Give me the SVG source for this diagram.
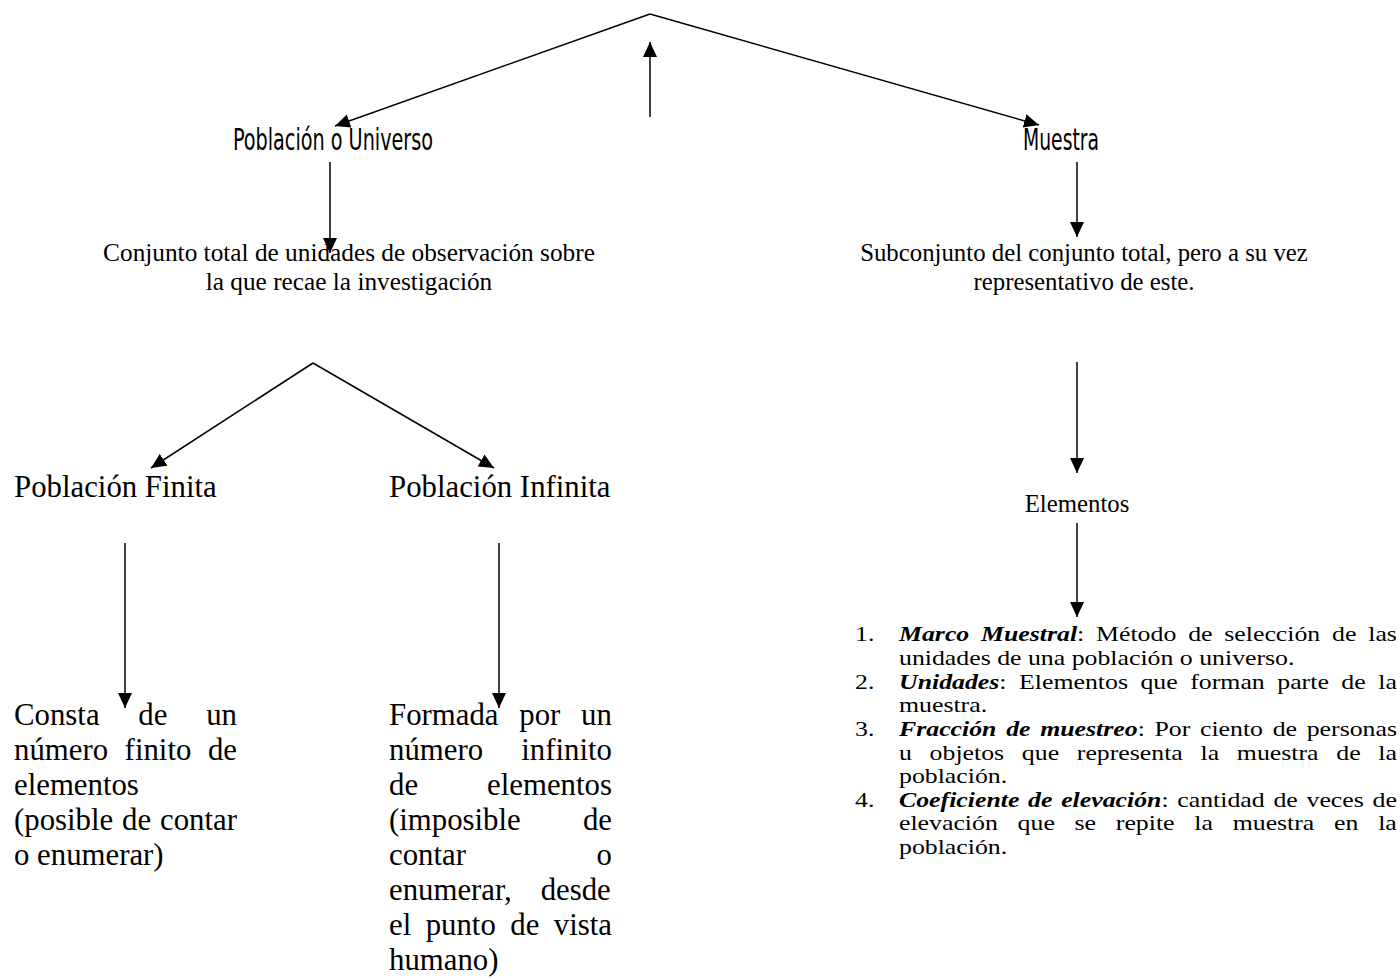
<svg xmlns="http://www.w3.org/2000/svg" width="1400" height="979" viewBox="0 0 1400 979">
<style>
.ln{stroke:#000;stroke-width:1.5;fill:none}
.t{font-family:"Liberation Serif","Times New Roman",serif;fill:#000}
.bi{font-weight:bold;font-style:italic}
.ag{font-family:"DejaVu Sans Condensed","DejaVu Sans",sans-serif;font-stretch:condensed;fill:#000}
.b{font-size:30.8px}
.m{font-size:25.3px}
.s{font-size:24.8px}
.l{font-size:21.2px}
</style>
<defs>
<marker id="ah" markerUnits="userSpaceOnUse" markerWidth="16" markerHeight="15" refX="15" refY="7" orient="auto">
<path d="M0,0 L15,7 L0,14 Z" fill="#000"/>
</marker>
</defs>
<rect width="1400" height="979" fill="#fff"/>
<g id="connectors">
<line class="ln" x1="650" y1="14" x2="335" y2="126" marker-end="url(#ah)"/>
<line class="ln" x1="650" y1="14" x2="1039" y2="125" marker-end="url(#ah)"/>
<line class="ln" x1="650" y1="117" x2="650" y2="42" marker-end="url(#ah)"/>
<line class="ln" x1="330" y1="162" x2="330" y2="253" marker-end="url(#ah)"/>
<line class="ln" x1="1077" y1="162" x2="1077" y2="237" marker-end="url(#ah)"/>
<line class="ln" x1="313" y1="363" x2="151" y2="468" marker-end="url(#ah)"/>
<line class="ln" x1="313" y1="363" x2="494" y2="468" marker-end="url(#ah)"/>
<line class="ln" x1="1077" y1="362" x2="1077" y2="473" marker-end="url(#ah)"/>
<line class="ln" x1="1077" y1="523" x2="1077" y2="617" marker-end="url(#ah)"/>
<line class="ln" x1="125" y1="543" x2="125" y2="708" marker-end="url(#ah)"/>
<line class="ln" x1="499" y1="543" x2="499" y2="708" marker-end="url(#ah)"/>
</g>
<g id="n-poblacion-universo">
<text class="ag" x="233" y="150" font-size="30" textLength="200" lengthAdjust="spacingAndGlyphs">Población o Universo</text>
</g>
<g id="n-muestra">
<text class="ag" x="1023" y="150" font-size="30" textLength="76" lengthAdjust="spacingAndGlyphs">Muestra</text>
</g>
<g id="n-conjunto">
<text class="t m" text-anchor="middle" x="349" y="261">Conjunto total de unidades de observación sobre</text>
<text class="t m" text-anchor="middle" x="349" y="290">la que recae la investigación</text>
</g>
<g id="n-subconjunto">
<text class="t s" text-anchor="middle" x="1084" y="261">Subconjunto del conjunto total, pero a su vez</text>
<text class="t s" text-anchor="middle" x="1084" y="290">representativo de este.</text>
</g>
<g id="n-finita">
<text class="t b" x="14" y="497">Población Finita</text>
</g>
<g id="n-infinita">
<text class="t b" x="389" y="497">Población Infinita</text>
</g>
<g id="n-elementos">
<text class="t s" text-anchor="middle" x="1077" y="512">Elementos</text>
</g>
<g id="n-finita-desc">
<text class="t b" x="14" y="725" style="word-spacing:31.1px">Consta de un</text>
<text class="t b" x="14" y="760" style="word-spacing:8.85px">número finito de</text>
<text class="t b" x="14" y="795">elementos</text>
<text class="t b" x="14" y="830" style="word-spacing:1.15px">(posible de contar</text>
<text class="t b" x="14" y="865">o enumerar)</text>
</g>
<g id="n-infinita-desc">
<text class="t b" x="389" y="725" style="word-spacing:13.1px">Formada por un</text>
<text class="t b" x="389" y="760" style="word-spacing:30.5px">número infinito</text>
<text class="t b" x="389" y="795" style="word-spacing:61.3px">de elementos</text>
<text class="t b" x="389" y="830" style="word-spacing:54.5px">(imposible de</text>
<text class="t b" x="389" y="865" style="word-spacing:122.9px">contar o</text>
<text class="t b" x="389" y="900" style="word-spacing:21.2px">enumerar, desde</text>
<text class="t b" x="389" y="935" style="word-spacing:6.73px">el punto de vista</text>
<text class="t b" x="389" y="970">humano)</text>
</g>
<g id="n-lista">
<text class="t l" transform="translate(855,641) scale(1.217,1)">1.</text>
<text class="t l" transform="translate(899,641) scale(1.217,1)" style="word-spacing:4.41px"><tspan class="bi">Marco Muestral</tspan>: Método de selección de las</text>
<text class="t l" transform="translate(899,665) scale(1.217,1)">unidades de una población o universo.</text>
<text class="t l" transform="translate(855,689) scale(1.217,1)">2.</text>
<text class="t l" transform="translate(899,689) scale(1.217,1)" style="word-spacing:5.0px"><tspan class="bi">Unidades</tspan>: Elementos que forman parte de la</text>
<text class="t l" transform="translate(899,712) scale(1.217,1)">muestra.</text>
<text class="t l" transform="translate(855,736) scale(1.217,1)">3.</text>
<text class="t l" transform="translate(899,736) scale(1.217,1)" style="word-spacing:2.65px"><tspan class="bi">Fracción de muestreo</tspan>: Por ciento de personas</text>
<text class="t l" transform="translate(899,760) scale(1.217,1)" style="word-spacing:9.26px">u objetos que representa la muestra de la</text>
<text class="t l" transform="translate(899,783) scale(1.217,1)">población.</text>
<text class="t l" transform="translate(855,807) scale(1.217,1)">4.</text>
<text class="t l" transform="translate(899,807) scale(1.217,1)" style="word-spacing:1.87px"><tspan class="bi">Coeficiente de elevación</tspan>: cantidad de veces de</text>
<text class="t l" transform="translate(899,830) scale(1.217,1)" style="word-spacing:10.93px">elevación que se repite la muestra en la</text>
<text class="t l" transform="translate(899,854) scale(1.217,1)">población.</text>
</g>
</svg>
